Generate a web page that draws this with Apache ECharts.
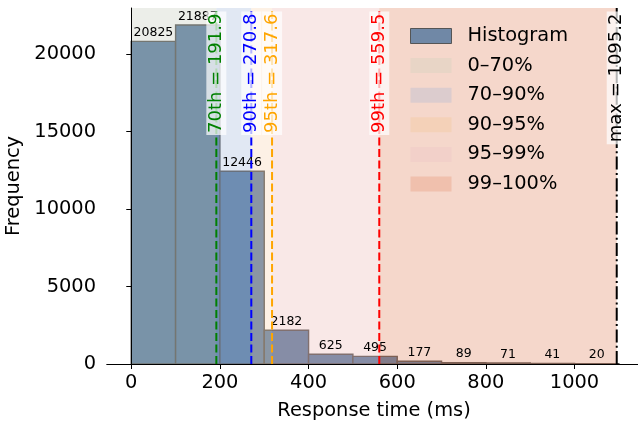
<!DOCTYPE html>
<html>
<head>
<meta charset="utf-8">
<script src="https://cdn.jsdelivr.net/npm/echarts@6/dist/echarts.min.js"></script>
<style>
  html, body { margin: 0; padding: 0; background: #fff; }
  #chart { width: 638px; height: 424px; }
</style>
</head>
<body>
<div id="chart"></div>
<script>
// histogram bins (100 ms wide)
const binStarts = [0, 100, 200, 300, 400, 500, 600, 700, 800, 900, 1000];
const binCounts = [20825, 21887, 12446, 2182, 625, 495, 177, 89, 71, 41, 20];
const binWidth = 100;

// percentile markers
const markerNames = ["70th", "90th", "95th", "99th", "max"];
const markerValues = [191.9, 270.8, 317.6, 559.5, 1095.2];

// shaded percentile bands
const bandNames = ["0–70%", "70–90%", "90–95%", "95–99%", "99–100%"];
const bandEdges = [0, 191.9, 270.8, 317.6, 559.5, 1095.2];

const xTicks = [0, 200, 400, 600, 800, 1000];
const yTicks = [0, 5000, 10000, 15000, 20000];

const X_MIN = -54.76, X_MAX = 1149.96, Y_MAX = 22981;
const FONT = "DejaVu Sans";

const barFill = "rgb(79,115,155)";
const barEdge = "#484848";
const bandFills = [
  "rgba(201,206,192,0.35)",
  "rgba(169,189,221,0.35)",
  "rgba(249,215,181,0.35)",
  "rgba(238,189,186,0.35)",
  "rgba(226,141,106,0.35)"
];
const legendColors = ["#e8d5c6", "#dcccce", "#f4d1b8", "#f2d0c9", "#f0c0ad"];
const markerColors = ["#008000", "#0000ff", "#ffa500", "#ff0000", "#000000"];
const markerDash = [[8, 3.5], [8, 3.5], [8, 3.5], [8, 3.5], [13, 3.3, 2, 3.3]];

const chart = echarts.init(document.getElementById("chart"), null, { renderer: "canvas" });

const barData = binStarts.map((s, i) => [s, binCounts[i]]);
const plain = (v) => String(v);

const bandSeries = bandNames.map((name, i) => ({
  name,
  type: "custom",
  z: 3,
  silent: true,
  data: [[bandEdges[i], bandEdges[i + 1]]],
  encode: { x: [0, 1] },
  renderItem(params, api) {
    const p0 = api.coord([api.value(0), 0]);
    const p1 = api.coord([api.value(1), Y_MAX]);
    return {
      type: "rect",
      shape: { x: p0[0], y: p1[1], width: p1[0] - p0[0], height: p0[1] - p1[1] },
      style: { fill: bandFills[i] }
    };
  }
}));

const option = {
  animation: false,
  grid: { left: 107, top: 8, right: -3, bottom: 60, containLabel: false, outerBoundsMode: "none" },
  legend: {
    left: 410,
    top: 26,
    padding: 0,
    orient: "vertical",
    icon: "rect",
    itemWidth: 41,
    itemHeight: 15,
    itemGap: 9.6,
    selectedMode: false,
    textStyle: { fontFamily: FONT, fontSize: 19.4, color: "#000", lineHeight: 20, padding: [0, 0, 0, 11] },
    data: [
      { name: "Histogram", itemStyle: { color: "#7088a6", borderColor: "#555", borderWidth: 1 } },
      ...bandNames.map((n, i) => ({ name: n, itemStyle: { color: legendColors[i], borderWidth: 0 } }))
    ]
  },
  xAxis: [{
    type: "value",
    min: X_MIN,
    max: X_MAX,
    z: 10,
    name: "Response time (ms)",
    nameLocation: "middle",
    nameGap: 37,
    nameTextStyle: { fontFamily: FONT, fontSize: 19.4, color: "#000" },
    axisLine: { show: true, onZero: false, lineStyle: { color: "#000", width: 1 } },
    axisTick: { show: true, length: 5, lineStyle: { color: "#000" }, customValues: xTicks },
    axisLabel: { fontFamily: FONT, fontSize: 19.4, color: "#000", margin: 9, customValues: xTicks, formatter: plain },
    splitLine: { show: false }
  }, {
    type: "value",
    position: "top",
    min: X_MIN,
    max: X_MAX,
    z: 10,
    axisLine: { show: true, lineStyle: { color: "#000", width: 1 } },
    axisTick: { show: false },
    axisLabel: { show: false },
    splitLine: { show: false }
  }],
  yAxis: {
    type: "value",
    min: 0,
    max: Y_MAX,
    z: 10,
    name: "Frequency",
    nameLocation: "middle",
    nameGap: 77,
    nameTextStyle: { fontFamily: FONT, fontSize: 19.4, color: "#000" },
    axisLine: { show: true, lineStyle: { color: "#000", width: 1 } },
    axisTick: { show: true, length: 5, lineStyle: { color: "#000" }, customValues: yTicks },
    axisLabel: { fontFamily: FONT, fontSize: 19.4, color: "#000", margin: 11, customValues: yTicks, formatter: plain },
    splitLine: { show: false }
  },
  series: [
    {
      name: "Histogram",
      type: "custom",
      z: 2,
      silent: true,
      data: barData,
      encode: { x: 0, y: 1 },
      renderItem(params, api) {
        const x0 = api.value(0);
        const p0 = api.coord([x0, 0]);
        const p1 = api.coord([x0 + binWidth, api.value(1)]);
        return {
          type: "rect",
          shape: { x: p0[0], y: p1[1], width: p1[0] - p0[0], height: p0[1] - p1[1] },
          style: { fill: barFill, stroke: barEdge, lineWidth: 1.4 }
        };
      }
    },
    ...bandSeries,
    {
      name: "counts",
      type: "custom",
      z: 4,
      silent: true,
      data: barData,
      encode: { x: 0, y: 1 },
      renderItem(params, api) {
        const p = api.coord([api.value(0) + binWidth / 2, api.value(1)]);
        return {
          type: "text",
          x: p[0],
          y: p[1] - 2,
          style: {
            text: String(api.value(1)),
            fill: "#000",
            font: "12.5px '" + FONT + "'",
            align: "center",
            verticalAlign: "bottom"
          }
        };
      }
    },
    {
      name: "markers",
      type: "custom",
      z: 5,
      silent: true,
      data: markerValues.map((v, i) => [v, i]),
      encode: { x: 0 },
      renderItem(params, api) {
        const v = api.value(0);
        const i = api.value(1);
        const b = api.coord([v, 0]);
        const t = api.coord([v, Y_MAX]);
        const a = api.coord([v, Y_MAX * 0.99]);
        return {
          type: "group",
          children: [
            {
              type: "line",
              shape: { x1: b[0], y1: b[1], x2: t[0], y2: t[1] },
              style: { stroke: markerColors[i], lineWidth: 2, lineDash: markerDash[i] }
            },
            {
              type: "text",
              x: a[0],
              y: a[1],
              rotation: Math.PI / 2,
              style: {
                text: markerNames[i] + " = " + v.toFixed(1),
                fill: markerColors[i],
                font: "18px '" + FONT + "'",
                align: "right",
                verticalAlign: "middle",
                backgroundColor: "rgba(255,255,255,0.7)",
                padding: [1, 2, 1, 2]
              }
            }
          ]
        };
      }
    }
  ]
};

chart.setOption(option);
</script>
</body>
</html>
